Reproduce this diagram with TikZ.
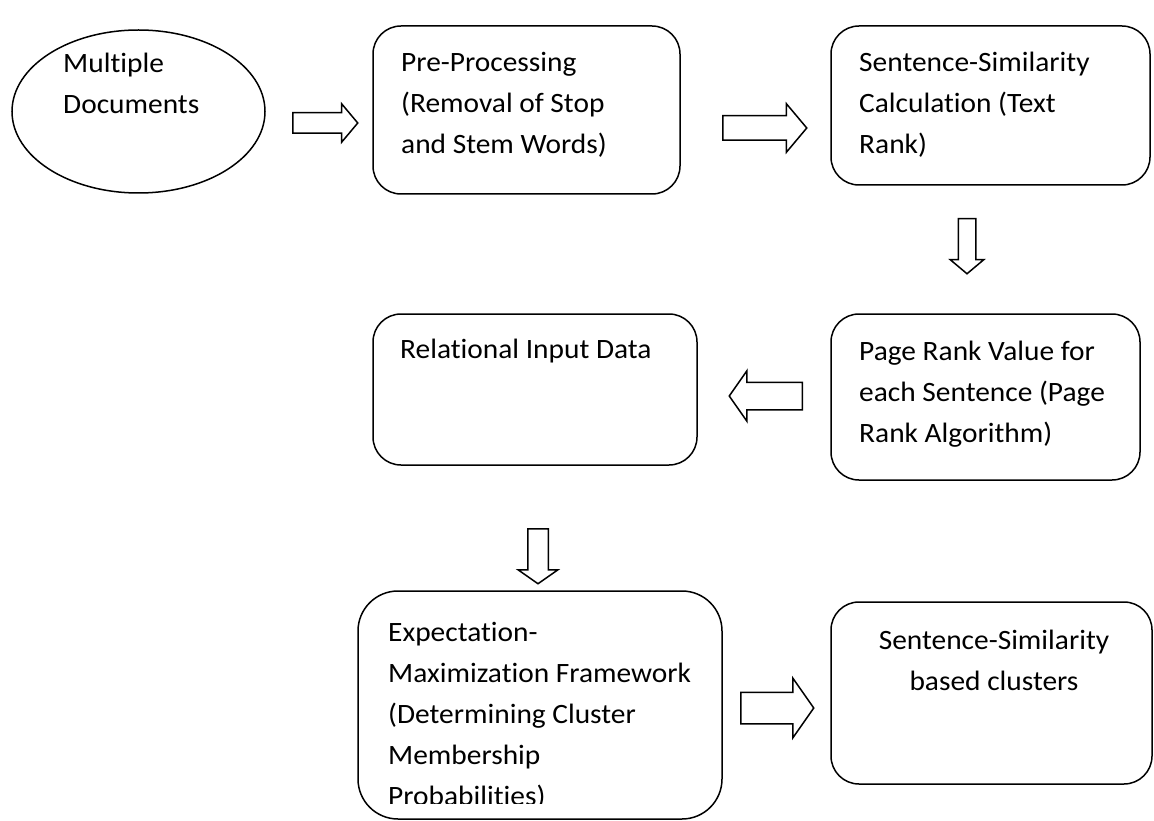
\documentclass[tikz,border=0pt]{standalone}
\usepackage{fontspec}
\setmainfont[Ligatures=CommonOff,FakeStretch=1.05]{Carlito}
\usetikzlibrary{shapes.geometric,shapes.arrows}

\tikzset{
  stage/.style={draw,line width=1.5pt,rounded corners=28pt,inner sep=0pt},
  words/.style={anchor=base west,align=left,inner sep=0pt,font=\fontsize{28}{41}\selectfont},
  blockarrow/.style={draw,line width=1.5pt,single arrow,single arrow tip angle=100,inner sep=0pt,anchor=tail}
}

\begin{document}
\begin{tikzpicture}[x=1pt,y=-1pt]
    \useasboundingbox (0,0) rectangle (1154,821);

    % Top row shapes
    \node[draw,line width=1.5pt,ellipse,minimum width=253pt,minimum height=163pt,inner sep=0pt] (docs) at (138.5,111.5) {};
    \node[stage,minimum width=307pt,minimum height=168pt] (prep) at (526.5,110) {};
    \node[stage,minimum width=319pt,minimum height=159pt] (simcalc) at (990.5,105.5) {};

    % Middle row shapes
    \node[stage,minimum width=309pt,minimum height=166pt] (pagerank) at (985.5,397) {};
    \node[stage,minimum width=324pt,minimum height=151pt] (relinput) at (535,389.5) {};

    % Bottom row shapes
    \node[stage,rounded corners=40pt,minimum width=364pt,minimum height=228pt] (emframe) at (540,705) {};
    \node[stage,minimum width=321pt,minimum height=182pt] (clusters) at (991.5,693) {};

    % Texts (base anchor = last line)
    \node[words] (docsText) at (63,114) {Multiple\\Documents};
    \node[words] (prepText) at (401,154) {Pre-Processing\\(Removal of Stop\\and Stem Words)};
    \node[words] (simcalcText) at (859,154) {Sentence-Similarity\\Calculation (Text\\Rank)};
    \node[words] (pagerankText) at (859,442) {Page Rank Value for\\each Sentence (Page\\Rank Algorithm)};
    \node[words] (relinputText) at (400,358) {Relational Input Data};
    \begin{scope}
        \clip (350,560) rectangle (730,803);
        \node[words] (emframeText) at (388,805) {Expectation-\\Maximization Framework\\(Determining Cluster\\Membership\\Probabilities)};
    \end{scope}
    \node[words,anchor=base,align=center] (clustersText) at (994,690) {Sentence-Similarity\\based clusters};

    % Block arrows between the stages
    \node[blockarrow,minimum height=65pt,inner ysep=9.5pt,single arrow head extend=9pt] (arrA) at (292,123) {};
    \node[blockarrow,minimum height=84pt,inner ysep=11.5pt,single arrow head extend=12pt] (arrB) at (722,128) {};
    \node[blockarrow,shape border rotate=270,minimum height=55pt,inner xsep=8pt,single arrow head extend=8pt] (arrC) at (967,218) {};
    \node[blockarrow,shape border rotate=180,single arrow tip angle=110,minimum height=73pt,inner ysep=13pt,single arrow head extend=11.5pt] (arrD) at (803,396) {};
    \node[blockarrow,shape border rotate=270,single arrow tip angle=110,minimum height=55pt,inner xsep=9.5pt,single arrow head extend=9.5pt] (arrE) at (538,528) {};
    \node[blockarrow,single arrow tip angle=110,minimum height=73pt,inner ysep=15pt,single arrow head extend=14pt] (arrF) at (740,708) {};

\end{tikzpicture}
\end{document}
